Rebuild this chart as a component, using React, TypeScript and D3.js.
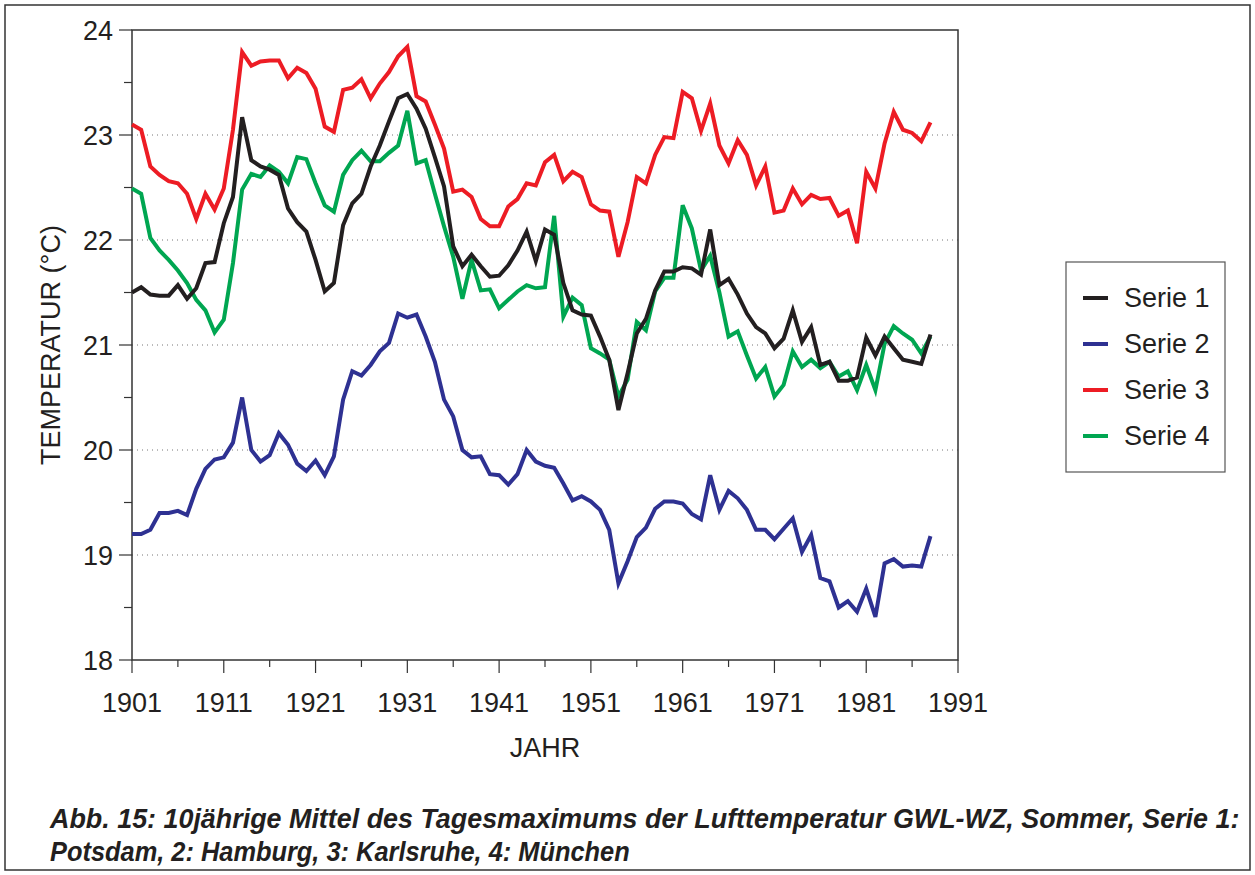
import React, { useRef, useEffect } from 'react';
import * as d3 from 'd3';

// Jahre 1901..1988 (10jährige Mittel)
const years = d3.range(1901, 1989);

const serie1 = [
  21.50, 21.55, 21.48, 21.47, 21.47, 21.57, 21.44, 21.54, 21.78, 21.79, 22.16, 22.41, 23.17, 22.76, 22.70, 22.67, 22.62, 22.30, 22.17, 22.08, 21.81, 21.51, 21.59,
  22.14, 22.35, 22.44, 22.70, 22.90, 23.13, 23.35, 23.39, 23.25, 23.06, 22.79, 22.51, 21.94, 21.75, 21.86, 21.75, 21.65, 21.66, 21.76, 21.90, 22.08, 21.80,
  22.10, 22.05, 21.59, 21.33, 21.29, 21.28, 21.08, 20.86, 20.38, 20.73, 21.11, 21.25, 21.52, 21.70, 21.70, 21.74, 21.73, 21.67, 22.10, 21.57, 21.63, 21.48,
  21.30, 21.17, 21.11, 20.97, 21.06, 21.33, 21.03, 21.17, 20.81, 20.84, 20.66, 20.66, 20.69, 21.07, 20.90, 21.08, 20.97, 20.86, 20.84, 20.82, 21.10
];

const serie2 = [
  19.20, 19.20, 19.24, 19.40, 19.40, 19.42, 19.38, 19.63, 19.82, 19.91, 19.93, 20.07, 20.50, 20.00, 19.89, 19.95, 20.16, 20.05, 19.87, 19.80, 19.90, 19.76, 19.94,
  20.48, 20.75, 20.71, 20.81, 20.94, 21.02, 21.30, 21.26, 21.29, 21.08, 20.84, 20.48, 20.32, 20.00, 19.93, 19.94, 19.77, 19.76, 19.67, 19.77, 20.00, 19.89,
  19.85, 19.83, 19.68, 19.52, 19.56, 19.51, 19.43, 19.24, 18.73, 18.94, 19.17, 19.26, 19.44, 19.51, 19.51, 19.49, 19.39, 19.34, 19.76, 19.43, 19.61, 19.54,
  19.43, 19.24, 19.24, 19.15, 19.25, 19.35, 19.03, 19.19, 18.78, 18.75, 18.50, 18.56, 18.46, 18.68, 18.41, 18.92, 18.96, 18.89, 18.90, 18.89, 19.18
];

const serie3 = [
  23.10, 23.05, 22.70, 22.62, 22.56, 22.54, 22.44, 22.20, 22.44, 22.29, 22.49, 23.05, 23.79, 23.66, 23.70, 23.71, 23.71, 23.54, 23.64, 23.59, 23.44, 23.08, 23.03,
  23.43, 23.45, 23.53, 23.35, 23.49, 23.60, 23.75, 23.84, 23.37, 23.32, 23.10, 22.87, 22.46, 22.48, 22.41, 22.20, 22.13, 22.13, 22.32, 22.39, 22.54, 22.52,
  22.74, 22.81, 22.56, 22.65, 22.60, 22.34, 22.28, 22.27, 21.84, 22.17, 22.60, 22.54, 22.81, 22.98, 22.97, 23.41, 23.35, 23.04, 23.30, 22.90, 22.73, 22.95,
  22.81, 22.52, 22.70, 22.26, 22.28, 22.49, 22.34, 22.43, 22.39, 22.40, 22.23, 22.28, 21.97, 22.65, 22.49, 22.92, 23.22, 23.05, 23.02, 22.94, 23.12
];

const serie4 = [
  22.49, 22.44, 22.02, 21.90, 21.81, 21.71, 21.59, 21.43, 21.33, 21.12, 21.24, 21.78, 22.48, 22.63, 22.60, 22.71, 22.65, 22.54, 22.79, 22.77, 22.54, 22.33, 22.27,
  22.62, 22.76, 22.85, 22.75, 22.75, 22.83, 22.90, 23.23, 22.73, 22.76, 22.44, 22.13, 21.84, 21.44, 21.81, 21.52, 21.53, 21.35, 21.43, 21.51, 21.57, 21.54,
  21.55, 22.23, 21.27, 21.45, 21.38, 20.97, 20.92, 20.86, 20.51, 20.67, 21.22, 21.14, 21.51, 21.64, 21.64, 22.33, 22.11, 21.71, 21.85, 21.50, 21.08, 21.13,
  20.90, 20.68, 20.79, 20.51, 20.62, 20.94, 20.79, 20.86, 20.78, 20.84, 20.70, 20.75, 20.57, 20.81, 20.57, 21.01, 21.18, 21.11, 21.05, 20.92, 21.08
];

const seriesNames = ['Serie 1', 'Serie 2', 'Serie 3', 'Serie 4'];
const seriesColors = ['#231f20', '#2e3192', '#ed1c24', '#00a651'];
const yTicks = [18, 19, 20, 21, 22, 23, 24];
const xTicks = d3.range(1901, 1992, 10);

const caption1 = 'Abb. 15: 10jährige Mittel des Tagesmaximums der Lufttemperatur GWL-WZ, Sommer, Serie 1:';
const caption2 = 'Potsdam, 2: Hamburg, 3: Karlsruhe, 4: München';

const App = () => {
  const svgRef = useRef(null);
  const width = 1255;
  const height = 875;
  const margin = { top: 30, right: 297, bottom: 215, left: 132 };

  useEffect(() => {
    const svg = d3.select(svgRef.current);
    svg.selectAll('*').remove();

    const font = 'Arial, "Liberation Sans", sans-serif';

    // outer frame
    svg.append('rect')
      .attr('x', 5).attr('y', 5)
      .attr('width', width - 10).attr('height', height - 10)
      .attr('fill', 'white')
      .attr('stroke', '#333')
      .attr('stroke-width', 1.5);

    const x = d3.scaleLinear()
      .domain([1901, 1991])
      .range([margin.left, width - margin.right]);

    const y = d3.scaleLinear()
      .domain([18, 24])
      .range([height - margin.bottom, margin.top]);

    // dotted grid
    svg.selectAll('line.grid')
      .data(yTicks.slice(1, -1))
      .join('line')
      .attr('class', 'grid')
      .attr('x1', x(1901)).attr('x2', x(1991))
      .attr('y1', d => y(d)).attr('y2', d => y(d))
      .attr('stroke', '#777')
      .attr('stroke-width', 1)
      .attr('stroke-dasharray', '1,4');

    // plot frame
    svg.append('rect')
      .attr('x', x(1901)).attr('y', y(24))
      .attr('width', x(1991) - x(1901)).attr('height', y(18) - y(24))
      .attr('fill', 'none')
      .attr('stroke', '#333')
      .attr('stroke-width', 1.5);

    // y ticks (major + minor)
    svg.selectAll('line.ytick')
      .data(d3.range(18, 24.01, 0.5))
      .join('line')
      .attr('class', 'ytick')
      .attr('x1', d => x(1901) - (Number.isInteger(d) ? 13 : 8))
      .attr('x2', x(1901))
      .attr('y1', d => y(d)).attr('y2', d => y(d))
      .attr('stroke', '#333')
      .attr('stroke-width', 1.2);

    svg.selectAll('text.ylabel')
      .data(yTicks)
      .join('text')
      .attr('class', 'ylabel')
      .attr('x', x(1901) - 19)
      .attr('y', d => y(d) + 10)
      .attr('text-anchor', 'end')
      .attr('font-family', font)
      .attr('font-size', '27px')
      .attr('fill', '#231f20')
      .text(d => d);

    // x ticks
    svg.selectAll('line.xtick')
      .data(d3.range(1901, 1992, 5))
      .join('line')
      .attr('class', 'xtick')
      .attr('x1', d => x(d)).attr('x2', d => x(d))
      .attr('y1', y(18))
      .attr('y2', d => y(18) + ((d - 1901) % 10 === 0 ? 13 : 7))
      .attr('stroke', '#333')
      .attr('stroke-width', 1.2);

    svg.selectAll('text.xlabel')
      .data(xTicks)
      .join('text')
      .attr('class', 'xlabel')
      .attr('x', d => x(d))
      .attr('y', y(18) + 52)
      .attr('text-anchor', 'middle')
      .attr('font-family', font)
      .attr('font-size', '27px')
      .attr('fill', '#231f20')
      .text(d => d);

    // axis titles
    svg.append('text')
      .attr('x', (x(1901) + x(1991)) / 2)
      .attr('y', y(18) + 97)
      .attr('text-anchor', 'middle')
      .attr('font-family', font)
      .attr('font-size', '27px')
      .attr('fill', '#231f20')
      .text('JAHR');

    svg.append('text')
      .attr('transform', `translate(60,${(y(18) + y(24)) / 2}) rotate(-90)`)
      .attr('text-anchor', 'middle')
      .attr('font-family', font)
      .attr('font-size', '27px')
      .attr('fill', '#231f20')
      .text('TEMPERATUR (°C)');

    // lines
    const data = [serie1, serie2, serie3, serie4];
    const line = d3.line()
      .x((d, i) => x(years[i]))
      .y(d => y(d));

    [3, 2, 1, 0].forEach(k => {
      svg.append('path')
        .datum(data[k])
        .attr('fill', 'none')
        .attr('stroke', seriesColors[k])
        .attr('stroke-width', 4)
        .attr('stroke-linejoin', 'miter')
        .attr('d', line);
    });

    // legend
    const lg = svg.append('g');
    lg.append('rect')
      .attr('x', 1066).attr('y', 262)
      .attr('width', 159).attr('height', 210)
      .attr('fill', 'white')
      .attr('stroke', '#555')
      .attr('stroke-width', 1.2);

    seriesNames.forEach((name, i) => {
      const ly = 298 + i * 46;
      lg.append('line')
        .attr('x1', 1083).attr('x2', 1108)
        .attr('y1', ly).attr('y2', ly)
        .attr('stroke', seriesColors[i])
        .attr('stroke-width', 4);
      lg.append('text')
        .attr('x', 1124)
        .attr('y', ly + 9)
        .attr('font-family', font)
        .attr('font-size', '27px')
        .attr('fill', '#231f20')
        .text(name);
    });

    // caption: condensed bold italic, squeezed to the reference widths
    const capFont = 'Arial, "Liberation Sans", sans-serif';
    [[caption1, 828, 1190], [caption2, 861, 580]].forEach(([txt, ty, w]) => {
      const t = svg.append('text')
        .attr('font-family', capFont)
        .attr('font-size', '28px')
        .attr('font-weight', 'bold')
        .attr('font-style', 'italic')
        .attr('fill', '#231f20')
        .text(txt);
      const natural = t.node().getComputedTextLength() || w;
      t.attr('transform', `translate(50,${ty}) scale(${w / natural},1)`);
    });
  }, []);

  return (
    <div style={{ position: 'absolute', left: 0, top: 0 }}>
      <svg ref={svgRef} width={width} height={height} style={{ display: 'block' }} />
    </div>
  );
};

export default App;
